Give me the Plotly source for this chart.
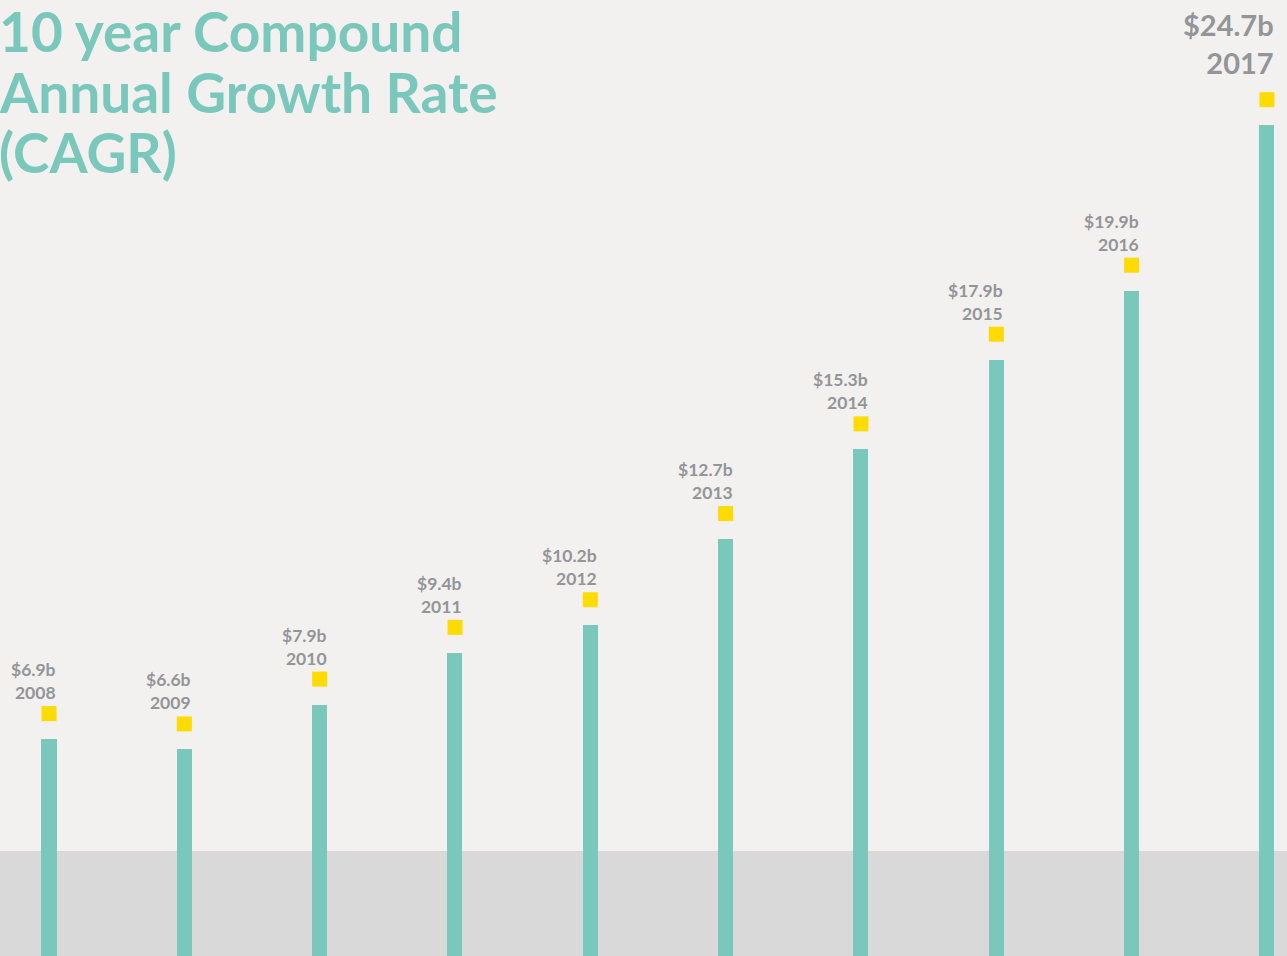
import plotly.graph_objects as go

years = ["2008", "2009", "2010", "2011", "2012", "2013", "2014", "2015", "2016", "2017"]
revenue_b = [6.9, 6.6, 7.9, 9.4, 10.2, 12.7, 15.3, 17.9, 19.9, 24.7]
value_labels = ["$6.9b", "$6.6b", "$7.9b", "$9.4b", "$10.2b", "$12.7b", "$15.3b", "$17.9b", "$19.9b", "$24.7b"]
title_lines = ["10 year Compound", "Annual Growth Rate", "(CAGR)"]

W, H = 1287, 956
BG = "#f2f1ef"
TEAL = "#7ac7bc"
YELLOW = "#ffdb00"
GREY_TXT = "#939598"
BAND = "#d9d9d9"

y_range = [0.61, 28.33]
px_per_unit = H / (y_range[1] - y_range[0])
marker_offset = 25.5 / px_per_unit

pos = list(range(len(years)))

fig = go.Figure()
fig.add_trace(go.Bar(
    x=pos, y=revenue_b, width=0.111,
    marker=dict(color=TEAL, line=dict(width=0)),
    hoverinfo="skip", showlegend=False,
))
fig.add_trace(go.Scatter(
    x=pos, y=[v + marker_offset for v in revenue_b], mode="markers",
    marker=dict(symbol="square", size=15, color=YELLOW, line=dict(width=0)),
    hoverinfo="skip", showlegend=False,
))

annotations = []
n = len(years)
for i, yr, v, lab in zip(pos, years, revenue_b, value_labels):
    big = i == n - 1
    annotations.append(dict(
        x=i, y=v, xref="x", yref="y",
        text=f"<b>{lab}</b><br><b>{yr}</b>",
        showarrow=False, xanchor="right", yanchor="bottom", align="right",
        xshift=9, yshift=43 if big else 34,
        font=dict(family="Lato, sans-serif", size=29 if big else 17.5, color=GREY_TXT),
    ))

title_centers = [31, 92, 152]
for line, cy in zip(title_lines, title_centers):
    annotations.append(dict(
        x=0, y=1 - cy / H, xref="paper", yref="paper",
        text=f"<b>{line}</b>", showarrow=False, xanchor="left", yanchor="middle",
        xshift=-3,
        font=dict(family="Lato, sans-serif", size=55, color=TEAL),
    ))

fig.update_layout(
    width=W, height=H,
    margin=dict(l=0, r=0, t=0, b=0),
    paper_bgcolor=BG, plot_bgcolor=BG,
    xaxis=dict(range=[-0.362, 9.148], visible=False, fixedrange=True),
    yaxis=dict(range=y_range, visible=False, fixedrange=True),
    bargap=0,
    annotations=annotations,
    shapes=[dict(type="rect", xref="paper", yref="paper", x0=0, x1=1, y0=0,
                 y1=(H - 851) / H, fillcolor=BAND, line=dict(width=0), layer="below")],
)

fig.write_html(
    "out.html",
    config={"displayModeBar": False},
    post_script="document.body.style.margin='0';document.body.style.overflow='hidden';",
)
